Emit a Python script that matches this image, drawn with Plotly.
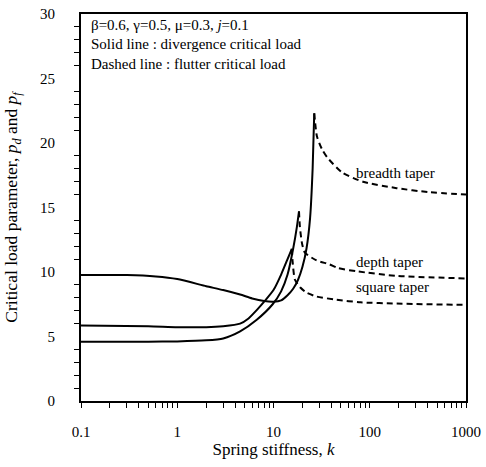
import plotly.graph_objects as go
import numpy as np

# Solid lines: divergence critical load
breadth_div_k = [0.1, 0.3, 0.6, 1.0, 2.0, 3.0, 4.5, 6.0, 8.0, 10, 12, 14, 16, 18, 20, 22, 24, 25.5, 26.5]
breadth_div_p = [9.77, 9.76, 9.65, 9.45, 8.9, 8.6, 8.25, 7.95, 7.75, 7.7, 7.8, 8.2, 8.7, 9.4, 10.4, 11.8, 14.2, 18.0, 22.3]

depth_div_k = [0.1, 0.5, 1.0, 2.0, 3.0, 4.5, 6.7, 9.8, 12, 14, 16, 17.5, 18.4]
depth_div_p = [4.6, 4.6, 4.62, 4.7, 4.85, 5.4, 6.3, 7.5, 8.5, 9.8, 11.8, 13.5, 14.7]

square_div_k = [0.1, 0.5, 1.0, 2.0, 3.0, 4.5, 5.5, 6.8, 8.0, 10, 12, 14, 15.5]
square_div_p = [5.86, 5.8, 5.72, 5.72, 5.8, 6.0, 6.4, 7.1, 7.7, 8.6, 9.8, 11.0, 11.8]

# Dashed lines: flutter critical load
breadth_flu_k = [26.5, 28.3, 32, 36, 52, 85, 190, 400, 1000]
breadth_flu_p = [22.3, 20.5, 19.5, 18.9, 17.7, 17.0, 16.5, 16.2, 16.0]

depth_flu_k = [18.4, 18.8, 19.8, 21.2, 28, 38, 47, 74, 190, 1000]
depth_flu_p = [14.7, 13.5, 12.2, 11.5, 10.9, 10.6, 10.3, 10.05, 9.7, 9.5]

square_flu_k = [15.5, 15.8, 16.7, 19, 22, 28, 45, 80, 190, 1000]
square_flu_p = [11.8, 10.8, 9.4, 8.8, 8.4, 8.1, 7.85, 7.65, 7.55, 7.45]

x_ticks = [0.1, 1, 10, 100, 1000]
x_tick_labels = ["0.1", "1", "10", "100", "1000"]
x_minor_ticks = [m * d for d in [0.1, 1, 10, 100, 1000] for m in range(1, 10) if m * d <= 1000]

FONT = "Liberation Serif, Times New Roman, serif"

fig = go.Figure()
solid = dict(color="black", width=2)
dashed = dict(color="black", width=2, dash="6px,4px")
for k, p in [(breadth_div_k, breadth_div_p), (depth_div_k, depth_div_p), (square_div_k, square_div_p)]:
    fig.add_trace(go.Scatter(x=k, y=p, mode="lines", line=dict(solid, shape="spline", smoothing=0.6)))
for k, p in [(breadth_flu_k, breadth_flu_p), (depth_flu_k, depth_flu_p), (square_flu_k, square_flu_p)]:
    fig.add_trace(go.Scatter(x=k, y=p, mode="lines", line=dict(dashed, shape="spline", smoothing=0.6)))

fig.update_layout(
    width=486, height=467,
    margin=dict(l=81, r=20, t=14, b=66, autoexpand=False),
    paper_bgcolor="white", plot_bgcolor="white",
    showlegend=False,
    font=dict(family=FONT, size=15, color="black"),
)
# Major ticks are transparent and long (to push labels away); visible ticks drawn as minor ticks
fig.update_xaxes(
    type="log", range=[-1, 3], automargin=False,
    tickvals=x_ticks, ticktext=x_tick_labels,
    ticks="outside", ticklen=16, tickwidth=1, tickcolor="rgba(0,0,0,0)",
    minor=dict(tickmode="array", tickvals=x_minor_ticks, ticks="outside",
               ticklen=5, tickwidth=1.3, tickcolor="black", showgrid=False),
    showline=True, linewidth=2, linecolor="black", mirror=True,
    showgrid=False, zeroline=False,
    tickfont=dict(size=15),
    title=dict(text="Spring stiffness, <i>k</i>", font=dict(size=17), standoff=4),
)
fig.update_yaxes(
    range=[0, 30], dtick=5, automargin=False,
    ticks="outside", ticklen=21, tickwidth=1, tickcolor="rgba(0,0,0,0)",
    minor=dict(ticks="outside", ticklen=5, tickwidth=1.3, tickcolor="black", dtick=1, showgrid=False),
    showline=True, linewidth=2, linecolor="black", mirror=True,
    showgrid=False, zeroline=False,
    tickfont=dict(size=15),
    title=dict(text="Critical load parameter, <i>p</i><sub><i>d</i></sub> and <i>p</i><sub><i>f</i></sub>",
               font=dict(size=17.5), standoff=18),
)

info_lines = ["β=0.6, γ=0.5, μ=0.3, <i>j</i>=0.1",
              "Solid line : divergence critical load",
              "Dashed line : flutter critical load"]
for i, t in enumerate(info_lines):
    fig.add_annotation(x=0.022, y=0.972 - i * 0.05, xref="paper", yref="paper",
                       text=t, showarrow=False, xanchor="left", yanchor="middle",
                       font=dict(size=15))

labels = [("breadth taper", 17.7), ("depth taper", 10.75), ("square taper", 8.8)]
for t, yv in labels:
    fig.add_annotation(x=np.log10(68), y=yv, xref="x", yref="y", text=t, showarrow=False,
                       xanchor="left", yanchor="middle", font=dict(size=15))

fig.write_html("out.html", config={"displayModeBar": False},
               post_script="document.body.style.margin='0';document.body.style.overflow='hidden';")
